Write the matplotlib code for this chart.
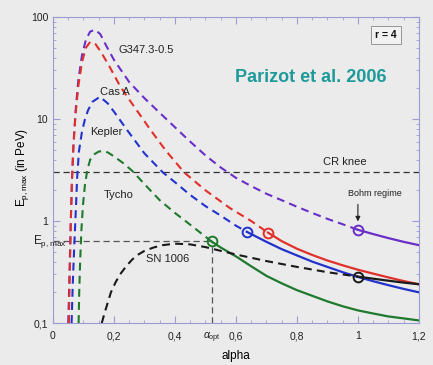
import matplotlib
matplotlib.use("Agg")
import matplotlib.pyplot as plt
from matplotlib.ticker import FixedLocator, FixedFormatter, MultipleLocator, LogLocator, NullFormatter

plt.rcParams['font.family'] = ['Liberation Sans', 'DejaVu Sans']
plt.rcParams['mathtext.fontset'] = 'custom'
plt.rcParams['mathtext.rm'] = 'Liberation Sans'
plt.rcParams['mathtext.it'] = 'Liberation Sans:italic'

# ---------------- data ----------------
# G347.3-0.5 (purple)
g347_x_dash = [0.050, 0.054, 0.058, 0.062, 0.067, 0.074, 0.083, 0.095, 0.108, 0.122, 0.138, 0.155,
               0.175, 0.2, 0.25, 0.3, 0.35, 0.4, 0.45, 0.5, 0.55, 0.6, 0.65, 0.7, 0.75, 0.8,
               0.85, 0.9, 0.95, 1.0]
g347_y_dash = [0.1, 0.3, 0.9, 2.4, 5.5, 12, 24, 42, 60, 72, 75, 68,
               52, 38, 23, 16, 11.5, 8.3, 6.0, 4.4, 3.35, 2.65, 2.2, 1.85, 1.6, 1.38,
               1.2, 1.05, 0.93, 0.82]
g347_x_solid = [1.0, 1.05, 1.1, 1.15, 1.2]
g347_y_solid = [0.82, 0.745, 0.68, 0.625, 0.58]

# Cas A (red)
casa_x_dash = [0.052, 0.055, 0.058, 0.062, 0.067, 0.074, 0.083, 0.095, 0.108, 0.122, 0.14, 0.16,
               0.187, 0.22, 0.25, 0.285, 0.32, 0.37, 0.43, 0.5, 0.58, 0.65, 0.705]
casa_y_dash = [0.1, 0.3, 0.9, 2.4, 5.5, 11, 21, 36, 50, 57, 54, 44,
               32, 21, 15.5, 11, 7.8, 4.9, 3.0, 2.0, 1.34, 1.0, 0.77]
casa_x_solid = [0.705, 0.75, 0.8, 0.85, 0.9, 0.95, 1.0, 1.05, 1.1, 1.15, 1.2]
casa_y_solid = [0.77, 0.635, 0.535, 0.465, 0.41, 0.368, 0.333, 0.305, 0.28, 0.258, 0.24]

# Kepler (blue)
kep_x_dash = [0.061, 0.065, 0.07, 0.075, 0.079, 0.085, 0.095, 0.105, 0.115, 0.13, 0.154, 0.18,
              0.2, 0.243, 0.3, 0.36, 0.4, 0.45, 0.5, 0.55, 0.6, 0.637]
kep_y_dash = [0.1, 0.25, 0.6, 1.3, 2.6, 4.8, 7.5, 10, 12.2, 14.8, 16.5, 14.2,
              11.8, 7.8, 4.6, 3.0, 2.4, 1.8, 1.4, 1.13, 0.9, 0.78]
kep_x_solid = [0.637, 0.7, 0.75, 0.8, 0.85, 0.9, 0.95, 1.0, 1.05, 1.1, 1.15, 1.2]
kep_y_solid = [0.78, 0.625, 0.53, 0.46, 0.40, 0.355, 0.315, 0.283, 0.257, 0.235, 0.216, 0.2]

# Tycho (green)
tyc_x_dash = [0.084, 0.086, 0.089, 0.093, 0.098, 0.105, 0.113, 0.122, 0.135, 0.15, 0.165, 0.18,
              0.2, 0.23, 0.26, 0.3, 0.35, 0.4, 0.45, 0.52]
tyc_y_dash = [0.1, 0.2, 0.4, 0.8, 1.4, 2.3, 3.2, 4.0, 4.5, 4.8, 4.85, 4.7,
              4.3, 3.7, 3.1, 2.3, 1.6, 1.2, 0.92, 0.63]
tyc_x_solid = [0.52, 0.55, 0.6, 0.65, 0.7, 0.75, 0.8, 0.85, 0.9, 0.95, 1.0, 1.05, 1.1, 1.15, 1.2]
tyc_y_solid = [0.63, 0.55, 0.45, 0.36, 0.29, 0.245, 0.21, 0.185, 0.163, 0.146, 0.133, 0.124,
               0.116, 0.111, 0.106]

# SN 1006 (black)
sn_x_dash = [0.16, 0.17, 0.18, 0.19, 0.205, 0.22, 0.24, 0.26, 0.28, 0.3, 0.33, 0.36, 0.4,
             0.45, 0.5, 0.55, 0.6, 0.7, 0.8, 0.9, 1.0]
sn_y_dash = [0.1, 0.128, 0.16, 0.2, 0.25, 0.3, 0.36, 0.42, 0.47, 0.51, 0.55, 0.58, 0.6,
             0.59, 0.555, 0.51, 0.47, 0.405, 0.355, 0.315, 0.285]
sn_x_solid = [1.0, 1.05, 1.1, 1.15, 1.2]
sn_y_solid = [0.285, 0.272, 0.26, 0.249, 0.24]

cr_knee = 3.0
alpha_opt = 0.52
e_pmax = 0.63

x_ticks = [0, 0.2, 0.4, 0.6, 0.8, 1.0, 1.2]
x_tick_labels = ['0', '0,2', '0,4', '0,6', '0,8', '1', '1,2']
y_ticks = [0.1, 1, 10, 100]
y_tick_labels = ['0,1', '1', '10', '100']

# ---------------- figure ----------------
bg = '#ebebeb'
fig = plt.figure(figsize=(4.33, 3.65), dpi=100, facecolor=bg)
ax = fig.add_axes([0.1224, 0.115, 0.845, 0.8384])
ax.set_facecolor(bg)
ax.set_yscale('log')
ax.set_xlim(0, 1.2)
ax.set_ylim(0.1, 100)

spine_c = '#9c9cd4'
for s in ax.spines.values():
    s.set_color(spine_c)
    s.set_linewidth(0.8)

dash = (3.8, 2.5)
series = [
    (g347_x_dash, g347_y_dash, g347_x_solid, g347_y_solid, '#6a2fc8'),
    (casa_x_dash, casa_y_dash, casa_x_solid, casa_y_solid, '#e0302a'),
    (kep_x_dash, kep_y_dash, kep_x_solid, kep_y_solid, '#2233cc'),
    (tyc_x_dash, tyc_y_dash, tyc_x_solid, tyc_y_solid, '#1f7a2e'),
    (sn_x_dash, sn_y_dash, sn_x_solid, sn_y_solid, '#1a1a1a'),
]
for xd, yd, xs, ys, c in series:
    ax.plot(xd, yd, color=c, lw=1.5, dashes=dash, zorder=3)
    ax.plot(xs, ys, color=c, lw=1.6, zorder=3)
    ax.plot([xs[0]], [ys[0]], marker='o', ms=7, mfc='none', mec=c, mew=1.4, zorder=4)

# reference lines
ax.axhline(cr_knee, color='#333333', lw=0.9, dashes=(5, 3), zorder=2)
ax.plot([0, alpha_opt], [e_pmax, e_pmax], color='#555555', lw=0.9, dashes=(5, 3), zorder=2)
ax.plot([alpha_opt, alpha_opt], [0.1, e_pmax], color='#555555', lw=0.9, dashes=(5, 3), zorder=2)

# ticks
ax.xaxis.set_major_locator(FixedLocator(x_ticks))
ax.xaxis.set_major_formatter(FixedFormatter(x_tick_labels))
ax.xaxis.set_minor_locator(MultipleLocator(0.05))
ax.yaxis.set_major_locator(FixedLocator(y_ticks))
ax.yaxis.set_major_formatter(FixedFormatter(y_tick_labels))
ax.yaxis.set_minor_locator(LogLocator(base=10, subs=range(2, 10)))
ax.yaxis.set_minor_formatter(NullFormatter())
ax.tick_params(which='both', direction='in', top=True, right=True, color=spine_c,
               labelsize=7.5, labelcolor='#222222')
ax.tick_params(which='major', length=5, width=0.8)
ax.tick_params(which='minor', length=2.5, width=0.6)
ax.tick_params(axis='x', pad=6)

ax.set_xlabel('alpha', fontsize=8.5, labelpad=6)
ax.set_ylabel(r'E$_{\rm p,max}$ (in PeV)', fontsize=8.5)
ax.yaxis.set_label_coords(-0.06, 0.507)

# annotations
tc = '#222222'
ax.text(0.215, 48, 'G347.3-0.5', fontsize=8, color=tc, va='center')
ax.text(0.155, 18.5, 'Cas A', fontsize=8, color=tc, va='center')
ax.text(0.122, 7.4, 'Kepler', fontsize=8, color=tc, va='center')
ax.text(0.165, 1.8, 'Tycho', fontsize=8, color=tc, va='center')
ax.text(0.305, 0.42, 'SN 1006', fontsize=8, color=tc, va='center')
ax.text(0.885, 3.75, 'CR knee', fontsize=8, color=tc, va='center')
ax.text(1.056, 1.88, 'Bohm regime', fontsize=6.5, color=tc, va='center', ha='center')
ax.annotate('', xy=(1.0, 0.93), xytext=(1.0, 1.55),
            arrowprops=dict(arrowstyle='-|>', color='#222222', lw=0.8, mutation_scale=7))
ax.text(0.846, 25.7, 'Parizot et al. 2006', fontsize=13, fontweight='bold',
        color='#1f9a9a', ha='center', va='center')
ax.text(1.092, 66.7, 'r = 4', fontsize=7.5, fontweight='bold', color='#111111', ha='center',
        va='center', bbox=dict(boxstyle='square,pad=0.4', fc='#f2f2f2', ec='#888888', lw=0.6))
ax.text(-0.065, e_pmax, r'E$_{\rm p,max}$', fontsize=8.5, color=tc, ha='left', va='center',
        clip_on=False)
ax.text(alpha_opt, 0.072, r'$\alpha_{\rm opt}$', fontsize=7.5, color=tc, ha='center', va='center',
        clip_on=False)

fig.savefig('out.png', dpi=100, facecolor=bg)
